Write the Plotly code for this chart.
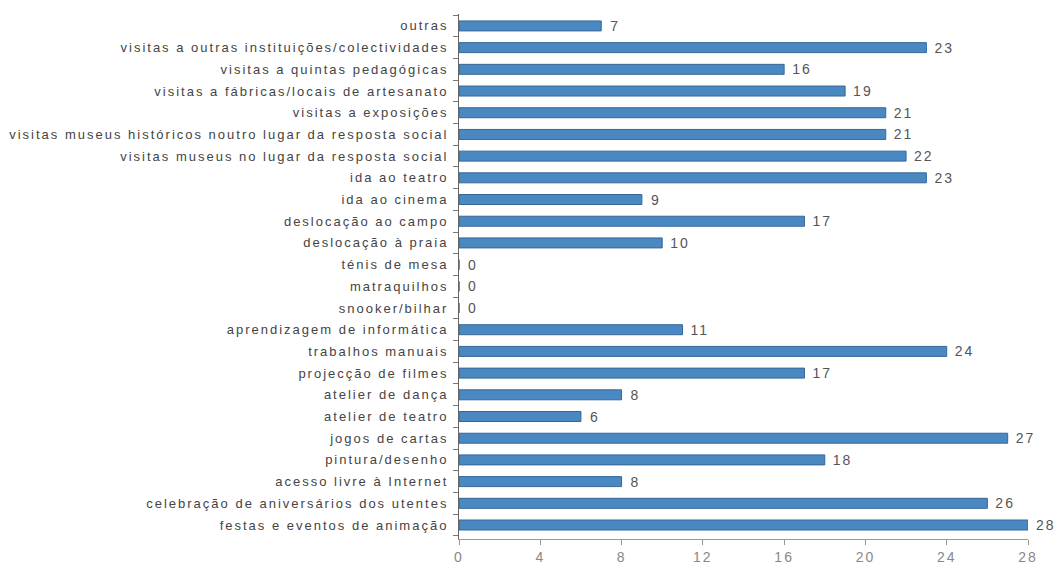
import plotly.graph_objects as go

# Activities, listed from top to bottom
categories = [
    "outras",
    "visitas a outras instituições/colectividades",
    "visitas a quintas pedagógicas",
    "visitas a fábricas/locais de artesanato",
    "visitas a exposições",
    "visitas museus históricos noutro lugar da resposta social",
    "visitas museus no lugar da resposta social",
    "ida ao teatro",
    "ida ao cinema",
    "deslocação ao campo",
    "deslocação à praia",
    "ténis de mesa",
    "matraquilhos",
    "snooker/bilhar",
    "aprendizagem de informática",
    "trabalhos manuais",
    "projecção de filmes",
    "atelier de dança",
    "atelier de teatro",
    "jogos de cartas",
    "pintura/desenho",
    "acesso livre à Internet",
    "celebração de aniversários dos utentes",
    "festas e eventos de animação",
]
values = [7, 23, 16, 19, 21, 21, 22, 23, 9, 17, 10, 0, 0, 0,
          11, 24, 17, 8, 6, 27, 18, 8, 26, 28]
x_ticks = [0, 4, 8, 12, 16, 20, 24, 28]

FONT = "Liberation Sans, Arial, sans-serif"

fig = go.Figure(
    go.Bar(
        x=values,
        y=categories,
        orientation="h",
        marker=dict(color="#4a88c2", line=dict(color="#35679a", width=1)),
        text=[str(v) for v in values],
        textposition="outside",
        constraintext="none",
        textfont=dict(family=FONT, size=14, color="#555555"),
        cliponaxis=False,
        width=0.46,
    )
)

fig.update_layout(
    width=1059,
    height=565,
    margin=dict(l=459, r=31, t=14, b=26),
    paper_bgcolor="white",
    plot_bgcolor="white",
    showlegend=False,
    font=dict(family=FONT, size=13, color="#444444"),
)

fig.update_xaxes(
    range=[0, 28],
    tickvals=x_ticks,
    showgrid=False,
    zeroline=False,
    showline=True,
    linecolor="#999999",
    linewidth=1,
    ticks="outside",
    ticklen=5,
    tickcolor="#999999",
    tickfont=dict(family=FONT, size=14, color="#888888"),
    automargin=False,
)

fig.update_yaxes(
    categoryorder="array",
    categoryarray=categories[::-1],
    range=[-0.645, 23.55],
    showgrid=False,
    showline=True,
    linecolor="#666666",
    linewidth=1,
    ticks="outside",
    tickson="boundaries",
    ticklen=5,
    tickcolor="#777777",
    tickfont=dict(family=FONT, size=13, color="#444444"),
    ticklabelstandoff=7,
    automargin=False,
)

# Airy letter spacing for axis and value labels, and a gap after each bar
post_js = (
    "var s=document.createElement('style');"
    "s.textContent='.ytick text{letter-spacing:2px}"
    ".xtick text{letter-spacing:2px}"
    ".bartext{letter-spacing:2px}';"
    "document.head.appendChild(s);"
    "document.querySelectorAll('.bartext').forEach(function(t){t.setAttribute('dx','7');});"
)

fig.write_html("out.html", post_script=post_js)
